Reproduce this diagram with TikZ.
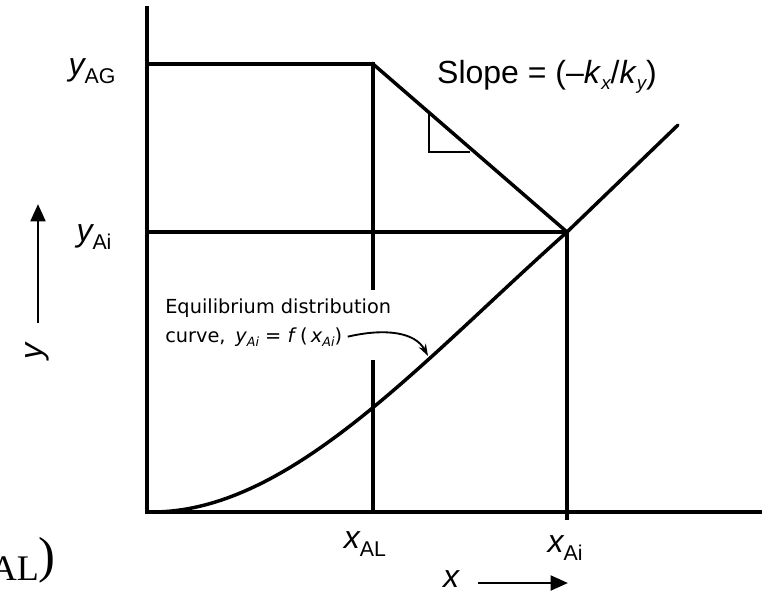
\documentclass[tikz,border=0pt]{standalone}
\usepackage{fontspec}
\setmainfont{Liberation Sans}
\newfontfamily\annfont{DejaVu Sans}
\newfontfamily\fragfont{Liberation Serif}
\usetikzlibrary{arrows.meta}
\newcommand{\biglab}[2]{{\fontsize{24}{24}\selectfont\itshape #1}\raisebox{-5.5pt}{\fontsize{16}{16}\selectfont #2}}
\newcommand{\smallsub}[1]{\raisebox{-4pt}{\fontsize{14}{14}\selectfont\itshape #1}}
\newcommand{\annsub}[1]{\raisebox{-3pt}{\fontsize{9.5}{9.5}\selectfont\itshape #1}}
\begin{document}
\begin{tikzpicture}[x=0.75pt,y=-0.75pt,
  mainline/.style={line width=2.6pt,line cap=rect},
  thinline/.style={line width=1.8pt},
  bigtext/.style={inner sep=0pt},
  anntext/.style={inner sep=0pt,font=\annfont\fontsize{14.5}{14.5}\selectfont},
  axarrow/.style={line width=2.2pt,-{Triangle[length=13pt,width=11pt]}}]
\useasboundingbox (0,0) rectangle (762,592);
\clip (0,0) rectangle (762,592);
% key points
\coordinate (O) at (147,512);
\coordinate (Ytop) at (147,8);
\coordinate (Xend) at (770,512);
\coordinate (Gax) at (147,64);
\coordinate (G) at (373,64);
\coordinate (Iax) at (147,232);
\coordinate (I) at (567,232);
\coordinate (Lgap1) at (373,288);
\coordinate (Lgap2) at (373,362);
\coordinate (Lb) at (373,512);
\coordinate (Ib) at (567,518);
\coordinate (T1) at (429,114);
\coordinate (T2) at (429,152);
\coordinate (T3) at (470,152);
\coordinate (C0) at (152,512);
\coordinate (Cend) at (678,125);
% axes
\draw[mainline] (Ytop) -- (O) -- (Xend);
% horizontal lines
\draw[mainline] (Gax) -- (G);
\draw[mainline] (Iax) -- (I);
% vertical lines
\draw[mainline] (G) -- (Lgap1);
\draw[mainline] (Lgap2) -- (Lb);
\draw[mainline] (I) -- (Ib);
% operating line
\draw[mainline] (G) -- (I);
% slope triangle
\draw[thinline] (T1) -- (T2) -- (T3);
% equilibrium curve
\draw[mainline,line cap=round,line join=round] (C0) .. controls (290,512) and (420,363) .. (I) -- (Cend);
% labels
\node[bigtext] (yag) at (92,71) {\biglab{y}{AG}};
\node[bigtext] (yai) at (94,237) {\biglab{y}{Ai}};
\node[bigtext] (xal) at (365,544) {\biglab{x}{AL}};
\node[bigtext] (xai) at (565,548) {\biglab{x}{Ai}};
\node[bigtext] (slope) at (547,77) {\fontsize{24}{24}\selectfont Slope = (\textendash\textit{k}\smallsub{x}/\textit{k}\smallsub{y})};
% axis direction labels
\node[bigtext,rotate=90] (ylab) at (37,351) {\fontsize{24}{24}\selectfont\itshape y};
\coordinate (ya1) at (38,323);
\coordinate (ya2) at (38,204);
\draw[axarrow] (ya1) -- (ya2);
\node[bigtext,anchor=base] (xlab) at (451,587) {\fontsize{24}{24}\selectfont\itshape x};
\coordinate (xa1) at (478,583);
\coordinate (xa2) at (568,583);
\draw[axarrow] (xa1) -- (xa2);
% annotation
\node[anntext,anchor=base west] (eq1) at (165,313) {Equilibrium distribution};
\node[anntext,anchor=base west] (eq2) at (165,342) {curve,\enspace\textit{y}\annsub{Ai} = \textit{f}\,(\,\textit{x}\annsub{Ai})};
\coordinate (arrS) at ([xshift=4pt,yshift=4pt]eq2.base east);
\coordinate (arrE) at (428,356);
\draw[line width=1.4pt,-{Stealth[length=9pt,width=6pt]}] (arrS) .. controls (385,328) and (415,332) .. (arrE);
% cropped fragment at lower left
\node[inner sep=0pt,anchor=base east] (frag) at (56,572) {\fragfont\fontsize{38}{38}\selectfont(\textit{x}\raisebox{-6pt}{\fontsize{27}{27}\selectfont AL})};
\end{tikzpicture}
\end{document}
